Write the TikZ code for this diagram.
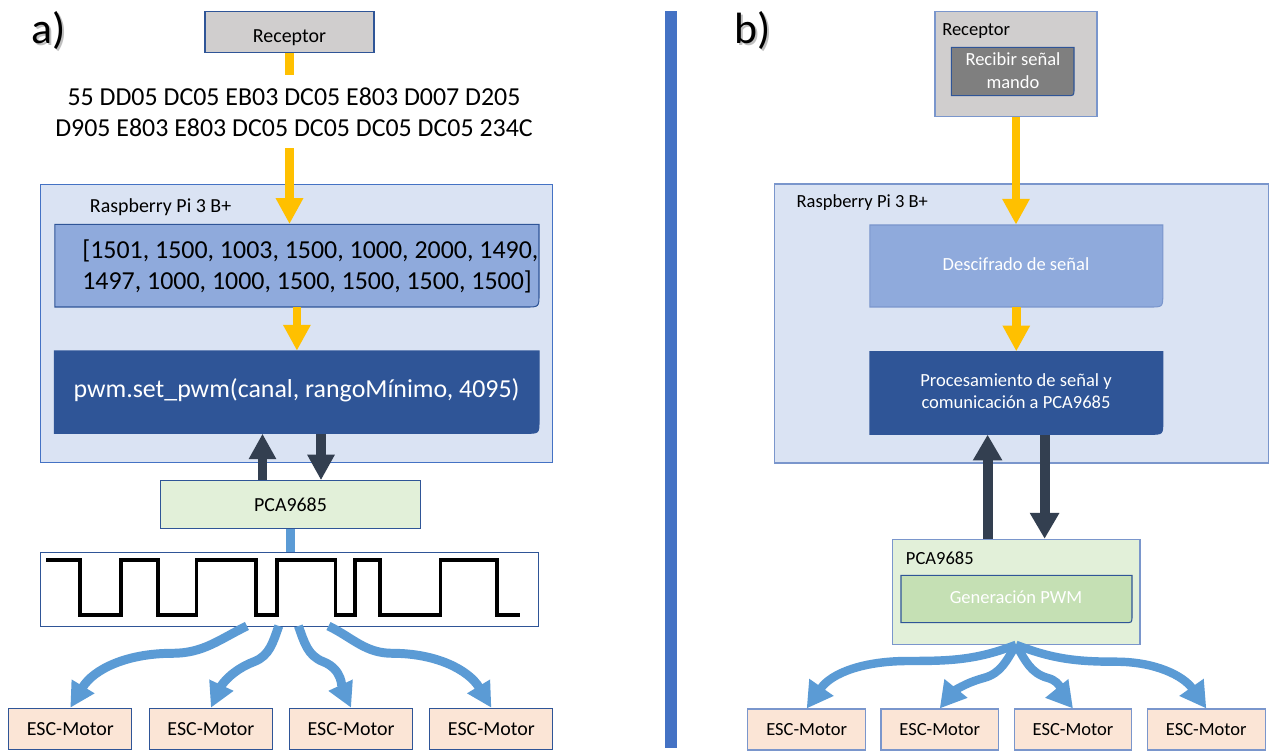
\documentclass[tikz,border=0pt]{standalone}
\usepackage{fontspec}
\setmainfont{Carlito}
\usetikzlibrary{arrows.meta}
\definecolor{ygold}{HTML}{FFC000}
\definecolor{rpifill}{HTML}{DAE3F3}
\definecolor{bordblue}{HTML}{2F5597}
\definecolor{lightbord}{HTML}{7A96CC}
\definecolor{midblue}{HTML}{8FAADC}
\definecolor{darkblue}{HTML}{2F5597}
\definecolor{slate}{HTML}{333F50}
\definecolor{pcafill}{HTML}{E2F0D9}
\definecolor{genfill}{HTML}{C5E0B4}
\definecolor{escfill}{HTML}{FBE5D6}
\definecolor{arrblue}{HTML}{5B9BD5}
\definecolor{divblue}{HTML}{4472C4}
\definecolor{recgray}{HTML}{D0CECE}
\definecolor{recvgray}{HTML}{7F7F7F}
\newcommand\fA{\fontsize{14.74pt}{18pt}\selectfont}
\newcommand\fB{\fontsize{11.34pt}{13.6pt}\selectfont}
\newcommand\fC{\fontsize{10.54pt}{12.87pt}\selectfont}
\newcommand\fD{\fontsize{24.9pt}{29pt}\selectfont}
% rounded bottom-right shape: x1,y1,x2,y2,fill,draw,radius
\newcommand\brshape[7]{\filldraw[fill=#5,draw=#6,line width=0.6pt] (#1,#2) -- (#3,#2) -- (#3,#4-#7) .. controls (#3,#4) .. (#3-#7,#4) -- (#1,#4) -- cycle;}
\begin{document}
\begin{tikzpicture}[x=0.02cm,y=-0.02cm,
  box/.style={draw=bordblue, line width=0.6pt, inner sep=0pt, align=center},
  hold/.style={inner sep=0pt, draw=none},
  txt/.style={inner sep=0pt, align=center},
  esca/.style={box, fill=escfill, minimum width=2.46cm, minimum height=0.82cm, font=\fB},
  escb/.style={box, draw=lightbord, fill=escfill, minimum width=2.35cm, minimum height=0.82cm, font=\fC},
  yline/.style={draw=ygold, line width=4.9pt},
  yarrow/.style={draw=ygold, line width=4.9pt, -{Triangle[width=14.7pt,length=14.7pt]}},
  darrow/.style={draw=slate, line width=5.67pt, -{Triangle[width=14.7pt,length=14.5pt]}},
  darrowb/.style={draw=slate, line width=5.6pt, -{Triangle[width=15.8pt,length=14.7pt]}},
  barrow/.style={draw=arrblue, line width=5.1pt, -{Triangle[width=14.2pt,length=14.2pt]}},
  barrowb/.style={draw=arrblue, line width=4.8pt, -{Triangle[width=15.9pt,length=14.7pt]}}
]
\useasboundingbox (0,0) rectangle (1275,753);
\fill[white] (0,0) rectangle (1275,753);

% ---------- panel a ----------
\node[txt, font=\fD, anchor=base west, text=black!25] (aSh) at (33.3,45.3) {a)};
\node[txt, font=\fD, anchor=base west] (aLbl) at (31.5,43.3) {a)};

\node[box, fill=recgray, minimum width=3.38cm, minimum height=0.82cm] (recA) at (289.5,31.8) {};
\node[txt, font=\fB, anchor=base] (recAt) at (289.5,42.3) {Receptor};
\coordinate (stubA) at (289.5,75);
\draw[yline] (recA.south) -- (stubA);

\node[txt, font=\fA] (hexA) at (294,112.2) {55 DD05 DC05 EB03 DC05 E803 D007 D205\\D905 E803 E803 DC05 DC05 DC05 DC05 234C};
\coordinate (hexB) at (289.5,148.3);

\node[box, draw=divblue, fill=rpifill, minimum width=10.26cm, minimum height=5.56cm] (rpiA) at (296.5,323.3) {};
\node[txt, anchor=west, font=\fB] (rpiAl) at (89.6,207.3) {Raspberry Pi 3 B+};

\brshape{54.8}{224.3}{539}{307}{midblue}{bordblue}{13}
\node[hold, minimum width=9.684cm, minimum height=1.654cm] (arrA) at (296.9,265.7) {};
\node[txt, anchor=west, align=left, font=\fA] (arrAt) at (82,266.3) {[1501, 1500, 1003, 1500, 1000, 2000, 1490,\\1497, 1000, 1000, 1500, 1500, 1500, 1500]};
\draw[yarrow] (hexB) -- (hexB |- arrA.north);

\brshape{54.5}{351}{539}{433.3}{darkblue}{darkblue}{13}
\node[hold, minimum width=9.69cm, minimum height=1.646cm] (pwmA) at (296.8,392.2) {};
\node[txt, font=\fA, text=white] (pwmAt) at (296.6,390.7) {pwm.set\_pwm(canal, rangoMínimo, 4095)};
\draw[yarrow] (arrA.south) -- (arrA.south |- pwmA.north);

\node[box, fill=pcafill, minimum width=5.21cm, minimum height=0.952cm, font=\fB] (pcaA) at (290.5,504.5) {PCA9685};
\coordinate (uA) at (262.5,0);
\coordinate (dA) at (321,0);
\draw[darrow] (uA |- pcaA.north) -- (uA |- pwmA.south);
\draw[darrow] (dA |- pwmA.south) -- (dA |- pcaA.north);

\node[box, fill=white, minimum width=9.98cm, minimum height=1.474cm] (waveA) at (289.5,589.2) {};
\draw[draw=arrblue, line width=5.67pt] (pcaA.south) -- (pcaA.south |- waveA.north);
\draw[line width=2pt, black, line join=miter]
  (46.3,560) -- (80,560) -- (80,615) -- (120.9,615) -- (120.9,560) -- (158.1,560) -- (158.1,615)
  -- (196.5,615) -- (196.5,560) -- (255.8,560) -- (255.8,615) -- (277.1,615) -- (277.1,560)
  -- (335.6,560) -- (335.6,615) -- (355.2,615) -- (355.2,560) -- (380,560) -- (380,615)
  -- (440.4,615) -- (440.4,560) -- (497.2,560) -- (497.2,615) -- (519.5,615);

\node[esca] (escA1) at (70.3,728.8) {ESC-Motor};
\node[esca] (escA2) at (210.9,728.8) {ESC-Motor};
\node[esca] (escA3) at (351.1,728.8) {ESC-Motor};
\node[esca] (escA4) at (491.4,728.8) {ESC-Motor};

\coordinate (e1) at (246.9,626); \coordinate (m1) at (172.3,653.3);
\coordinate (e2) at (278.8,626); \coordinate (m2) at (254,661.7);
\coordinate (e3) at (298.4,626); \coordinate (m3) at (323.2,661.7);
\coordinate (e4) at (328.5,626); \coordinate (m4) at (392.4,653.3);
\draw[barrow] (e1) to[out=-154,in=0] (m1) to[out=180,in=59] (escA1.north);
\draw[barrow] (e2) to[out=-110,in=21] (m2) to[out=201,in=65] (escA2.north);
\draw[barrow] (e3) to[out=-70,in=159] (m3) to[out=-21,in=115] (escA3.north);
\draw[barrow] (e4) to[out=-26,in=180] (m4) to[out=0,in=121] (escA4.north);

% ---------- divider ----------
\fill[divblue] (665,11) rectangle (677,748);

% ---------- panel b ----------
\node[txt, font=\fD, anchor=base west, text=black!25] (bSh) at (735.8,45.3) {b)};
\node[txt, font=\fD, anchor=base west] (bLbl) at (734,43.3) {b)};

\node[box, draw=lightbord, fill=recgray, minimum width=3.24cm, minimum height=2.1cm] (recB) at (1016,64.2) {};
\node[txt, anchor=west, font=\fC] (recBl) at (941.9,30.7) {Receptor};
\brshape{951.4}{47.3}{1074}{95.7}{recvgray}{bordblue}{7}
\node[hold, minimum width=2.452cm, minimum height=0.968cm] (recvB) at (1012.7,71.5) {};
\node[txt, font=\fC, text=white] (recvBt) at (1013,70.4) {Recibir señal\\mando};

\node[box, draw=lightbord, fill=rpifill, minimum width=9.884cm, minimum height=5.58cm] (rpiB) at (1021.3,323.5) {};
\node[txt, anchor=west, font=\fC] (rpiBl) at (796.3,203) {Raspberry Pi 3 B+};

\brshape{869.8}{225}{1162.8}{307}{midblue}{lightbord}{13}
\node[hold, minimum width=5.86cm, minimum height=1.64cm] (descB) at (1016.3,266) {};
\node[txt, font=\fC, text=white] (descBt) at (1016,264.3) {Descifrado de señal};

\brshape{870}{351.7}{1162.8}{434.3}{darkblue}{darkblue}{13}
\node[hold, minimum width=5.856cm, minimum height=1.652cm] (procB) at (1016.4,393) {};
\node[txt, font=\fC, text=white] (procBt) at (1016,391.3) {Procesamiento de señal y\\comunicación a PCA9685};

\draw[yarrow] (recB.south) -- (recB.south |- descB.north);
\draw[yarrow] (descB.south) -- (descB.south |- procB.north);

\node[box, draw=lightbord, fill=pcafill, minimum width=4.96cm, minimum height=2.1cm] (pcaB) at (1016,591.8) {};
\node[txt, anchor=west, font=\fC] (pcaBl) at (905.6,558.3) {PCA9685};
\brshape{901}{575.3}{1132}{622.7}{genfill}{bordblue}{7}
\node[hold, minimum width=4.62cm, minimum height=0.948cm] (genB) at (1016.5,599) {};
\node[txt, font=\fC, text=white] (genBt) at (1016,597.3) {Generación PWM};

\coordinate (uB) at (987.6,0);
\coordinate (dB) at (1044.6,0);
\draw[darrowb] (uB |- pcaB.north) -- (uB |- procB.south);
\draw[darrowb] (dB |- procB.south) -- (dB |- pcaB.north);

\node[escb] (escB1) at (806.7,729.5) {ESC-Motor};
\node[escb] (escB2) at (939.75,729.5) {ESC-Motor};
\node[escb] (escB3) at (1073,729.5) {ESC-Motor};
\node[escb] (escB4) at (1206.3,729.5) {ESC-Motor};

\coordinate (n1) at (908,661); \coordinate (n2) at (983.7,678);
\coordinate (n3) at (1047.9,678); \coordinate (n4) at (1115.9,661.7);
\draw[barrowb] (pcaB.south) to[out=-159,in=0] (n1) to[out=180,in=55] (escB1.north);
\draw[barrowb] (pcaB.south) to[out=-121,in=15] (n2) to[out=195,in=51] (escB2.north);
\draw[barrowb] (pcaB.south) to[out=-59,in=165] (n3) to[out=-15,in=129] (escB3.north);
\draw[barrowb] (pcaB.south) to[out=-21,in=180] (n4) to[out=0,in=125] (escB4.north);
\end{tikzpicture}
\end{document}
